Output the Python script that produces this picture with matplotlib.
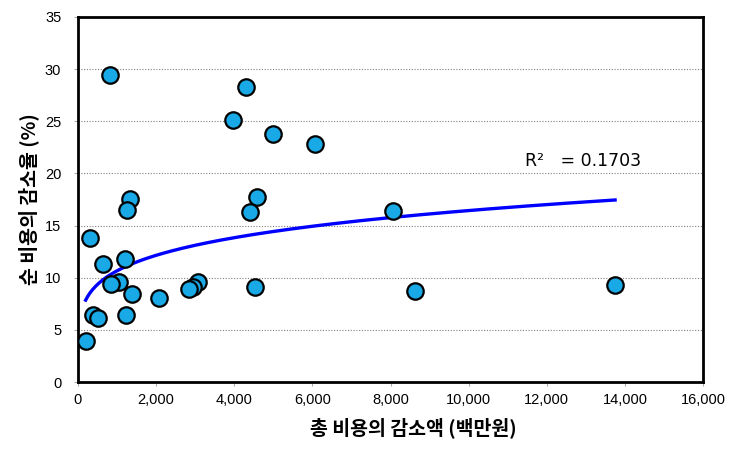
import matplotlib
matplotlib.use("Agg")
import matplotlib.pyplot as plt
from matplotlib.ticker import FuncFormatter, MultipleLocator
import numpy as np

plt.rcParams['font.family'] = ['Liberation Sans', 'Noto Sans CJK KR', 'DejaVu Sans']

# total cost reduction (million won) vs net cost reduction rate (%)
cost_reduction = [820, 4300, 3960, 4990, 6060, 4580, 4400, 8060, 1330, 1250,
                  310, 630, 1200, 1060, 845, 1380, 2070, 375, 520, 1220,
                  196, 3080, 2950, 2850, 4530, 8630, 13750]
rate_reduction = [29.4, 28.24, 25.16, 23.75, 22.8, 17.77, 16.27, 16.37, 17.58, 16.53,
                  13.82, 11.34, 11.82, 9.62, 9.37, 8.47, 8.09, 6.44, 6.12, 6.44,
                  3.89, 9.62, 9.11, 8.92, 9.11, 8.73, 9.30]
# power trend line y = c * x^p
trend_c = 2.91
trend_p = 0.188
r2_label = "R²   = 0.1703"
x_label = "총 비용의 감소액 (백만원)"
y_label = "순 비용의 감소율 (%)"

x = np.array(cost_reduction, dtype=float)
y = np.array(rate_reduction, dtype=float)

fig = plt.figure(figsize=(7.44, 4.53), dpi=100)
ax = fig.add_axes([78 / 744, 1 - 382 / 453, 625 / 744, 365 / 453])

xt = np.linspace(x.min(), x.max(), 300)
ax.plot(xt, trend_c * xt ** trend_p, color='#0000ff', lw=2.4, zorder=2)

ax.scatter(x, y, s=140, color='#19a9e6', edgecolor='black', linewidth=1.6, zorder=3)

ax.set_xlim(0, 16000)
ax.set_ylim(0, 35)
ax.xaxis.set_major_locator(MultipleLocator(2000))
ax.yaxis.set_major_locator(MultipleLocator(5))
ax.xaxis.set_major_formatter(FuncFormatter(lambda v, p: f"{int(v):,}"))
ax.yaxis.grid(True, linestyle=(0, (1, 1.5)), color='#808080', lw=0.8)
ax.set_axisbelow(True)

for s in ax.spines.values():
    s.set_linewidth(2)
    s.set_color('black')

ax.tick_params(axis='both', labelsize=10.5, colors='black', length=3, width=0.8)
ax.tick_params(axis='x', pad=5, color='#aaaaaa')
ax.tick_params(axis='y', pad=9, color='#aaaaaa')

ax.text(11440, 21.15, r2_label, fontsize=12.5, family=['DejaVu Sans'], va='center')

fig.text(413 / 744, 1 - 428 / 453, x_label, fontsize=14, fontweight='bold',
         family=['Noto Sans CJK KR'], ha='center', va='center')
fig.text(29 / 744, 1 - 199 / 453, y_label, fontsize=14, fontweight='bold',
         family=['Noto Sans CJK KR'], ha='center', va='center', rotation=90)

fig.savefig("out.png", dpi=100)
